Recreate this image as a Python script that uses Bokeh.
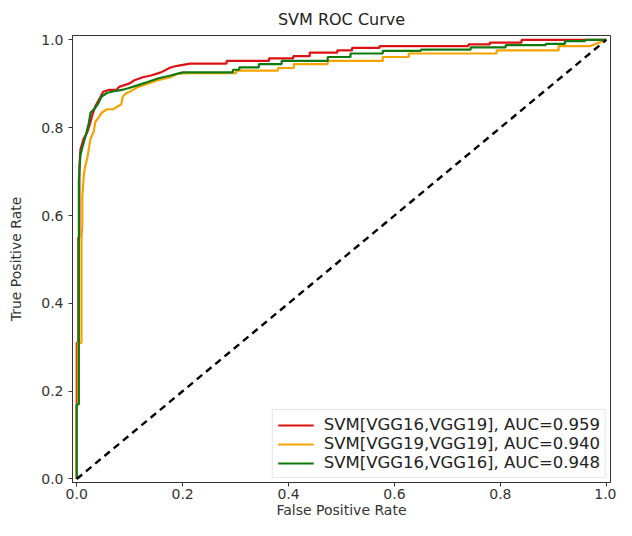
from bokeh.plotting import figure
from bokeh.models import Range1d, FixedTicker, Legend, LegendItem, NumeralTickFormatter
from bokeh.embed import file_html
from bokeh.resources import INLINE

# ROC curve points
vgg16_vgg19_fpr = [0, 0, 0.003, 0.003, 0.005, 0.005, 0.007, 0.013, 0.02, 0.026, 0.029, 0.035, 0.044,
                   0.05, 0.06, 0.075, 0.08, 0.09, 0.1, 0.109, 0.125, 0.14, 0.159, 0.177, 0.19, 0.214,
                   0.283, 0.283, 0.363, 0.363, 0.409, 0.409, 0.44, 0.44, 0.492, 0.492, 0.52, 0.52,
                   0.572, 0.572, 0.74, 0.74, 0.78, 0.78, 0.84, 0.84, 1.0]
vgg16_vgg19_tpr = [0, 0.31, 0.31, 0.55, 0.55, 0.71, 0.75, 0.775, 0.79, 0.813, 0.827, 0.849, 0.868,
                   0.882, 0.886, 0.886, 0.893, 0.897, 0.901, 0.908, 0.915, 0.919, 0.926, 0.937, 0.941, 0.946,
                   0.946, 0.952, 0.952, 0.958, 0.958, 0.963, 0.963, 0.971, 0.971, 0.976, 0.976, 0.982,
                   0.982, 0.986, 0.986, 0.99, 0.99, 0.994, 0.994, 1.0, 1.0]

vgg19_vgg19_fpr = [0, 0, 0.002, 0.002, 0.009, 0.009, 0.0105, 0.0105, 0.0135, 0.0166, 0.02, 0.026, 0.032,
                   0.035, 0.041, 0.047, 0.057, 0.069, 0.078, 0.084, 0.087, 0.094, 0.1, 0.116, 0.134,
                   0.153, 0.177, 0.19, 0.214, 0.301, 0.301, 0.38, 0.38, 0.41, 0.41, 0.474, 0.474,
                   0.578, 0.578, 0.627, 0.627, 0.793, 0.793, 0.91, 0.91, 0.97, 1.0]
vgg19_vgg19_tpr = [0, 0.17, 0.17, 0.31, 0.31, 0.55, 0.576, 0.642, 0.694, 0.716, 0.731, 0.775, 0.79,
                   0.813, 0.823, 0.834, 0.842, 0.842, 0.849, 0.853, 0.871, 0.879, 0.882, 0.893, 0.9,
                   0.908, 0.915, 0.923, 0.924, 0.924, 0.93, 0.93, 0.936, 0.936, 0.945, 0.945, 0.952,
                   0.952, 0.961, 0.961, 0.969, 0.969, 0.976, 0.976, 0.986, 0.986, 1.0]

vgg16_vgg16_fpr = [0, 0, 0.004, 0.004, 0.007, 0.0135, 0.0166, 0.023, 0.026, 0.035, 0.041, 0.047, 0.057,
                   0.066, 0.085, 0.097, 0.116, 0.134, 0.153, 0.177, 0.2, 0.295, 0.295, 0.307, 0.307,
                   0.344, 0.344, 0.387, 0.387, 0.474, 0.474, 0.517, 0.517, 0.578, 0.578, 0.65, 0.65,
                   0.744, 0.744, 0.81, 0.81, 0.886, 0.886, 0.922, 0.922, 0.96, 0.96, 1.0]
vgg16_vgg16_tpr = [0, 0.17, 0.17, 0.68, 0.738, 0.768, 0.78, 0.812, 0.834, 0.845, 0.856, 0.871, 0.879,
                   0.882, 0.886, 0.89, 0.897, 0.904, 0.912, 0.919, 0.926, 0.926, 0.932, 0.932, 0.9375,
                   0.9375, 0.945, 0.945, 0.952, 0.952, 0.961, 0.961, 0.969, 0.969, 0.975, 0.975, 0.978,
                   0.978, 0.983, 0.983, 0.988, 0.988, 0.991, 0.991, 0.997, 0.997, 1.0, 1.0]

chance_x = [0, 1]
chance_y = [0, 1]

series_labels = ["SVM[VGG16,VGG19], AUC=0.959",
                 "SVM[VGG19,VGG19], AUC=0.940",
                 "SVM[VGG16,VGG16], AUC=0.948"]
tick_values = [0.0, 0.2, 0.4, 0.6, 0.8, 1.0]

FONT = "DejaVu Sans"

p = figure(width=616, height=520, output_backend="svg", toolbar_location=None,
           x_range=Range1d(-0.008, 1.008), y_range=Range1d(-0.008, 1.01),
           title="SVM ROC Curve",
           min_border_left=72, min_border_right=6, min_border_top=35, min_border_bottom=38)

p.title.align = "center"
p.title.text_font = FONT
p.title.text_font_style = "normal"
p.title.text_font_size = "16px"
p.title.text_color = "#222222"
p.title.standoff = 14

p.grid.visible = False
p.outline_line_color = "#333333"
p.outline_line_width = 1
p.background_fill_color = "white"
p.border_fill_color = "white"

for ax in (p.xaxis[0], p.yaxis[0]):
    ax.ticker = FixedTicker(ticks=tick_values)
    ax.formatter = NumeralTickFormatter(format="0.0")
    ax.minor_tick_line_color = None
    ax.major_tick_in = 0
    ax.major_tick_out = 4
    ax.major_tick_line_color = "#333333"
    ax.axis_line_color = "#333333"
    ax.major_label_text_font = FONT
    ax.major_label_text_font_size = "14px"
    ax.major_label_text_color = "#333333"
    ax.axis_label_text_font = FONT
    ax.axis_label_text_font_size = "14px"
    ax.axis_label_text_font_style = "normal"
    ax.axis_label_text_color = "#333333"

p.xaxis.axis_label = "False Positive Rate"
p.yaxis.axis_label = "True Positive Rate"
p.xaxis.major_label_standoff = 2
p.xaxis.axis_label_standoff = 0
p.yaxis.major_label_standoff = 5
p.yaxis.axis_label_standoff = 14

r1 = p.line(vgg16_vgg19_fpr, vgg16_vgg19_tpr, line_color="#dc1212", line_width=2.2)
r2 = p.line(vgg19_vgg19_fpr, vgg19_vgg19_tpr, line_color="#f5a300", line_width=2.2)
r3 = p.line(vgg16_vgg16_fpr, vgg16_vgg16_tpr, line_color="#107a10", line_width=2.2)
p.line(chance_x, chance_y, line_color="black", line_width=2.4, line_dash="7 5")

legend = Legend(items=[LegendItem(label=series_labels[0], renderers=[r1]),
                       LegendItem(label=series_labels[1], renderers=[r2]),
                       LegendItem(label=series_labels[2], renderers=[r3])],
                location="bottom_right")
legend.label_text_font = FONT
legend.label_text_font_size = "16.5px"
legend.label_text_color = "#222222"
legend.glyph_width = 36
legend.glyph_height = 18
legend.label_height = 19
legend.label_standoff = 10
legend.spacing = 0
legend.padding = 5
legend.margin = 4
legend.border_line_color = "#cccccc"
legend.border_line_width = 1
legend.background_fill_alpha = 0.85
p.add_layout(legend)

open("out.html", "w").write(file_html(p, INLINE))
